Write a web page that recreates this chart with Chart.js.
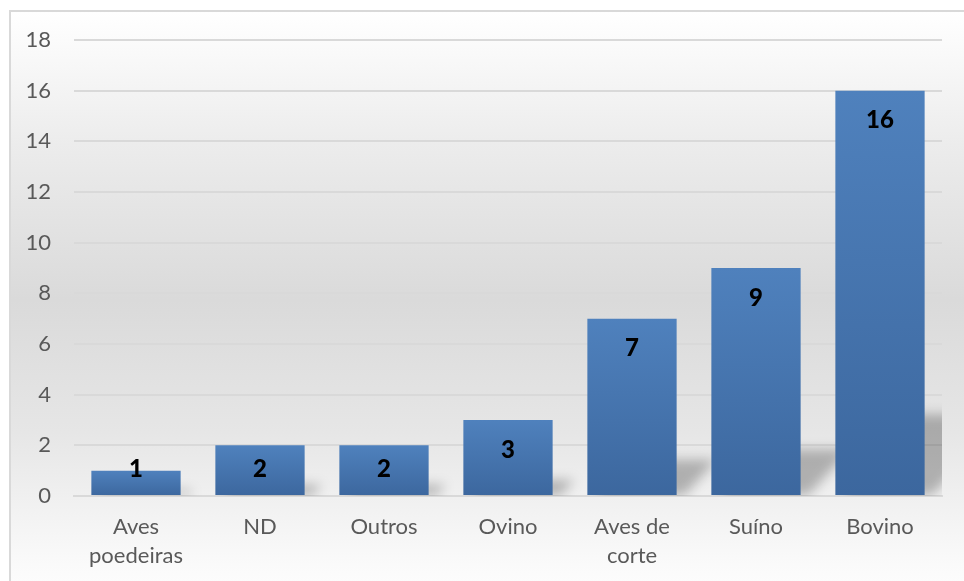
<!DOCTYPE html>
<html>
<head>
<meta charset="utf-8">
<script src="https://cdn.jsdelivr.net/npm/chart.js@4"></script>
<style>
  html, body { margin: 0; padding: 0; background: #fff; overflow: hidden; }
  #frame {
    position: absolute; left: 9px; top: 10px; width: 980px; height: 600px;
    border-left: 2px solid #d9d9d9; border-top: 2px solid #d9d9d9;
    background: linear-gradient(to bottom, #ffffff 0%, #ececec 22%, #dadada 48%, #e6e6e6 70%, #fafafa 92%, #ffffff 100%);
  }
  #wrap { position: absolute; left: 0; top: 0; width: 964px; height: 581px; }
</style>
</head>
<body>
<div id="frame"></div>
<div id="wrap"><canvas id="chart"></canvas></div>
<script>
// data
const categories = [["Aves", "poedeiras"], "ND", "Outros", "Ovino", ["Aves de", "corte"], "Suíno", "Bovino"];
const counts = [1, 2, 2, 3, 7, 9, 16];
const yTicks = [0, 2, 4, 6, 8, 10, 12, 14, 16, 18];

const FONT = "Lato, 'Open Sans', sans-serif";

function barFill(ctx) {
  const chart = ctx.chart;
  if (!chart.chartArea) return "#4a7ab5";
  const y = chart.scales.y;
  const top = y.getPixelForValue(ctx.raw);
  const base = y.getPixelForValue(0);
  const g = chart.ctx.createLinearGradient(0, top, 0, base);
  g.addColorStop(0, "#4f81bd");
  g.addColorStop(1, "#3c679e");
  return g;
}

// soft perspective shadows behind the bars
const barShadows = {
  id: "barShadows",
  beforeDatasetsDraw(chart) {
    const ctx = chart.ctx;
    const meta = chart.getDatasetMeta(0);
    const area = chart.chartArea;
    ctx.save();
    ctx.beginPath();
    ctx.rect(area.left, area.top, area.right - area.left, area.bottom - area.top);
    ctx.clip();
    ctx.filter = "blur(6px)";
    ctx.fillStyle = "rgba(0,0,0,0.26)";
    meta.data.forEach((bar) => {
      const half = bar.width / 2;
      const h = (bar.base - bar.y) * 0.2;
      const dx = h * 0.9;
      ctx.beginPath();
      ctx.moveTo(bar.x - half + 8, bar.base);
      ctx.lineTo(bar.x + half + 8, bar.base);
      ctx.lineTo(bar.x + half + 8 + dx, bar.base - h);
      ctx.lineTo(bar.x - half + 8 + dx, bar.base - h);
      ctx.closePath();
      ctx.fill();
    });
    ctx.restore();
  },
};

// bold value labels inside the bar ends
const valueLabels = {
  id: "valueLabels",
  afterDatasetsDraw(chart) {
    const ctx = chart.ctx;
    const meta = chart.getDatasetMeta(0);
    ctx.save();
    ctx.font = "900 24px " + FONT;
    ctx.fillStyle = "#000";
    ctx.textAlign = "center";
    ctx.textBaseline = "middle";
    meta.data.forEach((bar, i) => {
      const y = Math.min(bar.y + 30, bar.base - 26);
      ctx.fillText(String(counts[i]), bar.x, y);
    });
    ctx.restore();
  },
};

new Chart(document.getElementById("chart"), {
  type: "bar",
  data: {
    labels: categories,
    datasets: [{
      data: counts,
      backgroundColor: barFill,
      borderWidth: 0,
      categoryPercentage: 1,
      barPercentage: 0.72,
    }],
  },
  options: {
    responsive: true,
    maintainAspectRatio: false,
    animation: false,
    layout: { padding: { left: 0, right: 22, top: 40, bottom: 0 } },
    plugins: { legend: { display: false }, tooltip: { enabled: false } },
    scales: {
      x: {
        grid: { display: false, drawTicks: false },
        border: { color: "#d9d9d9", width: 2 },
        ticks: {
          color: "#595959",
          font: { family: FONT, size: 22, lineHeight: 1.3 },
          padding: 17,
          maxRotation: 0,
          autoSkip: false,
        },
        afterFit(scale) { scale.height = 85; },
      },
      y: {
        min: 0,
        max: 18,
        afterBuildTicks(scale) { scale.ticks = yTicks.map((v) => ({ value: v })); },
        grid: { color: "#d9d9d9", lineWidth: 2, drawTicks: false },
        border: { display: false },
        ticks: {
          color: "#595959",
          font: { family: FONT, size: 22 },
          padding: 23,
        },
        afterFit(scale) { scale.width = 74; },
      },
    },
  },
  plugins: [barShadows, valueLabels],
});
</script>
</body>
</html>
